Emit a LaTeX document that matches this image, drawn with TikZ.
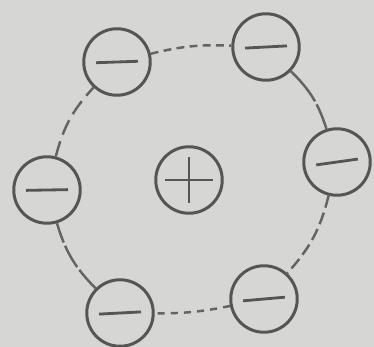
\documentclass[tikz,border=0pt]{standalone}
\usetikzlibrary{calc}
\definecolor{paper}{RGB}{214,214,212}
\definecolor{ink}{RGB}{85,85,85}
\definecolor{inkl}{RGB}{100,100,100}
\begin{document}
\begin{tikzpicture}[x=0.02cm,y=-0.02cm,
  charge/.style={circle, draw=ink, line width=1.7pt, minimum size=1.33cm, inner sep=0pt},
  negcharge/.style={charge, path picture={
      \draw[ink, line width=1.6pt]
        ($(path picture bounding box.center)+(180+#1:0.42cm)$) -- ($(path picture bounding box.center)+(#1:0.42cm)$);}},
  negcharge/.default=3,
  poscharge/.style={charge, path picture={
      \draw[ink, line width=1.6pt]
        ($(path picture bounding box.center)+(-0.48cm,0)$) -- ($(path picture bounding box.center)+(0.48cm,0)$)
        ($(path picture bounding box.center)+(0,-0.47cm)$) -- ($(path picture bounding box.center)+(0,0.47cm)$);}},
  ring/.style={draw=inkl, line width=1.4pt}
]
\fill[paper] (0,0) rectangle (374,347);
\useasboundingbox (0,0) rectangle (374,347);

\node[poscharge] (p) at (189,180) {};
\node[negcharge=2] (tl) at (117,62) {};
\node[negcharge=3] (tr) at (266,47) {};
\node[negcharge=8] (r) at (337,162) {};
\node[negcharge=5] (br) at (264,299) {};
\node[negcharge=3] (bl) at (120,313) {};
\node[negcharge=1] (l) at (47,190) {};

\draw[ring, dash pattern=on 4.5pt off 3pt] (tl) to[bend left=8] (tr);
\draw[ring, dash pattern=on 22pt off 2pt] (tr) to[bend left=14] (r);
\draw[ring, dash pattern=on 7pt off 3pt] (r) to[bend left=14] (br);
\draw[ring, dash pattern=on 4pt off 3.5pt] (br) to[bend left=6] (bl);
\draw[ring, dash pattern=on 14pt off 2pt] (bl) to[bend left=14] (l);
\draw[ring, dash pattern=on 9pt off 4pt] (l) to[bend left=14] (tl);
\end{tikzpicture}
\end{document}
